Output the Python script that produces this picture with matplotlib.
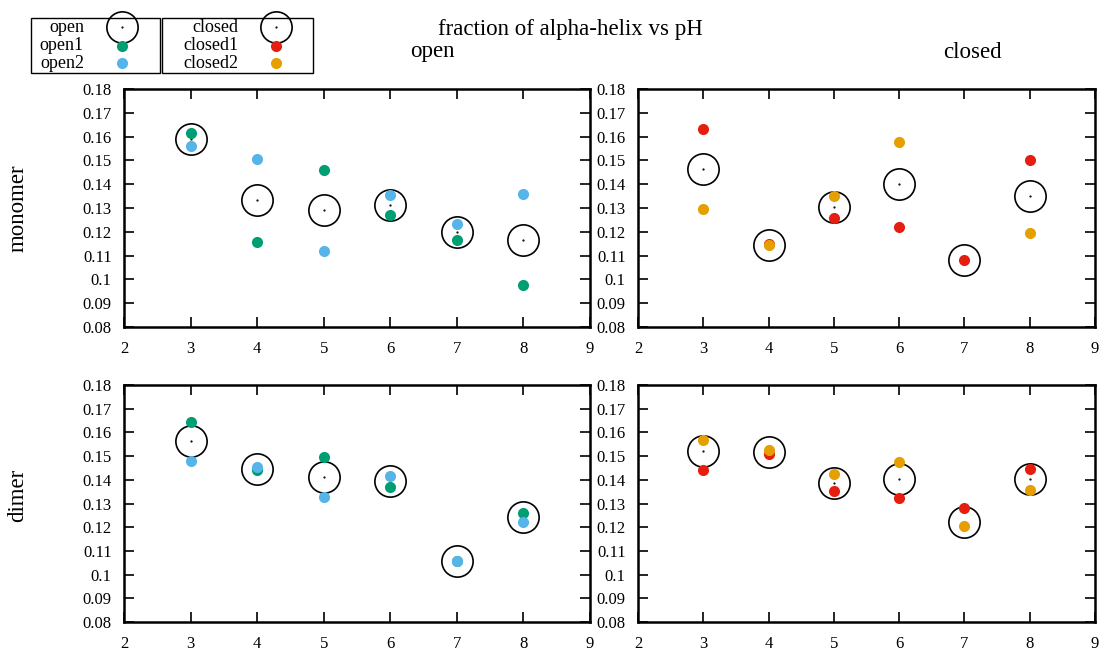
import numpy as np
import matplotlib
matplotlib.use("Agg")
import matplotlib.pyplot as plt
from matplotlib.patches import Rectangle

plt.rcParams['font.family'] = ['Liberation Serif', 'DejaVu Serif']

ph = [3, 4, 5, 6, 7, 8]

# monomer, open
mono_open_avg = [0.1590, 0.1332, 0.1290, 0.1314, 0.1199, 0.1167]
mono_open1 = [0.1615, 0.1159, 0.1461, 0.1272, 0.1164, 0.0975]
mono_open2 = [0.1562, 0.1506, 0.1119, 0.1355, 0.1231, 0.1357]
# monomer, closed
mono_closed_avg = [0.1464, 0.1145, 0.1303, 0.1400, 0.1082, 0.1349]
mono_closed1 = [0.1633, 0.1147, 0.1257, 0.1222, 0.1082, 0.1502]
mono_closed2 = [0.1296, 0.1143, 0.1349, 0.1576, np.nan, 0.1196]
# dimer, open
dim_open_avg = [0.1564, 0.1447, 0.1412, 0.1393, 0.1056, 0.1241]
dim_open1 = [0.1644, 0.1440, 0.1497, 0.1369, 0.1056, 0.1262]
dim_open2 = [0.1481, 0.1452, 0.1328, 0.1414, 0.1056, 0.1220]
# dimer, closed
dim_closed_avg = [0.1522, 0.1519, 0.1388, 0.1403, 0.1224, 0.1403]
dim_closed1 = [0.1442, 0.1508, 0.1352, 0.1324, 0.1282, 0.1447]
dim_closed2 = [0.1568, 0.1526, 0.1424, 0.1476, 0.1203, 0.1355]

xticks = [2, 3, 4, 5, 6, 7, 8, 9]
yticks = [0.08, 0.09, 0.1, 0.11, 0.12, 0.13, 0.14, 0.15, 0.16, 0.17, 0.18]
ytick_labels = ['0.08', '0.09', '0.1', '0.11', '0.12', '0.13', '0.14', '0.15', '0.16', '0.17', '0.18']

GREEN = '#009e73'
BLUE = '#56b4e9'
RED = '#e51e10'
ORANGE = '#e69f00'

W, H = 1112, 653
fig = plt.figure(figsize=(W / 100, H / 100), dpi=100)


def box(l, r, t, b):
    return [l / W, 1 - b / H, (r - l) / W, (b - t) / H]


axes = {
    'to': fig.add_axes(box(124, 590, 89, 327)),
    'tc': fig.add_axes(box(638, 1095, 89, 327)),
    'bo': fig.add_axes(box(124, 590, 385, 622)),
    'bc': fig.add_axes(box(638, 1095, 385, 622)),
}

panels = [
    ('to', mono_open_avg, mono_open1, mono_open2, GREEN, BLUE),
    ('tc', mono_closed_avg, mono_closed1, mono_closed2, RED, ORANGE),
    ('bo', dim_open_avg, dim_open1, dim_open2, GREEN, BLUE),
    ('bc', dim_closed_avg, dim_closed1, dim_closed2, RED, ORANGE),
]

for key, avg, s1, s2, c1, c2 in panels:
    ax = axes[key]
    ax.plot(ph, avg, linestyle='none', marker='o', markersize=22.5,
            markerfacecolor='none', markeredgecolor='black', markeredgewidth=1.2)
    ax.plot(ph, avg, linestyle='none', marker='.', markersize=1.2, color='black')
    ax.plot(ph, s1, linestyle='none', marker='o', markersize=8,
            color=c1, markeredgewidth=0)
    ax.plot(ph, s2, linestyle='none', marker='o', markersize=8,
            color=c2, markeredgewidth=0)
    ax.set_xlim(2, 9)
    ax.set_ylim(0.08, 0.18)
    ax.set_xticks(xticks)
    ax.set_xticklabels([str(v) for v in xticks])
    ax.set_yticks(yticks)
    ax.set_yticklabels(ytick_labels)
    ax.tick_params(direction='in', length=7, width=1.2, top=True, right=True,
                   labelsize=12)
    ax.tick_params(axis='x', pad=10)
    ax.tick_params(axis='y', pad=9)
    for sp in ax.spines.values():
        sp.set_linewidth(1.8)

fig.text(570 / W, 1 - 30 / H, 'fraction of alpha-helix vs pH', ha='center', va='center', fontsize=16.5)
fig.text(432 / W, 1 - 52 / H, 'open', ha='center', va='center', fontsize=16.5)
fig.text(972 / W, 1 - 52 / H, 'closed', ha='center', va='center', fontsize=16.5)
fig.text(18 / W, 1 - 208 / H, 'monomer', ha='center', va='center', rotation=90, fontsize=16.5)
fig.text(18 / W, 1 - 495 / H, 'dimer', ha='center', va='center', rotation=90, fontsize=16.5)

# legends drawn in pixel-space overlay
lax = fig.add_axes([0, 0, 1, 1], zorder=5)
lax.set_xlim(0, W)
lax.set_ylim(H, 0)
lax.axis('off')
lax.patch.set_alpha(0)

legends = [
    (31, 160, 84, 122, [('open', None), ('open1', GREEN), ('open2', BLUE)]),
    (162, 313, 238, 276, [('closed', None), ('closed1', RED), ('closed2', ORANGE)]),
]
rows_y = [28, 46, 63]
for l, r, tx, mx, entries in legends:
    lax.add_patch(Rectangle((l, 18), r - l, 55, fill=False, edgecolor='black', linewidth=1.0))
    for (label, col), yy in zip(entries, rows_y):
        lax.text(tx, yy, label, ha='right', va='center', fontsize=13)
        if col is None:
            lax.plot([mx], [yy - 1], linestyle='none', marker='o', markersize=22.5,
                     markerfacecolor='none', markeredgecolor='black', markeredgewidth=1.2,
                     clip_on=False)
            lax.plot([mx], [yy - 1], linestyle='none', marker='.', markersize=1.2, color='black')
        else:
            lax.plot([mx], [yy], linestyle='none', marker='o', markersize=8,
                     color=col, markeredgewidth=0)

fig.savefig('out.png', dpi=100)
